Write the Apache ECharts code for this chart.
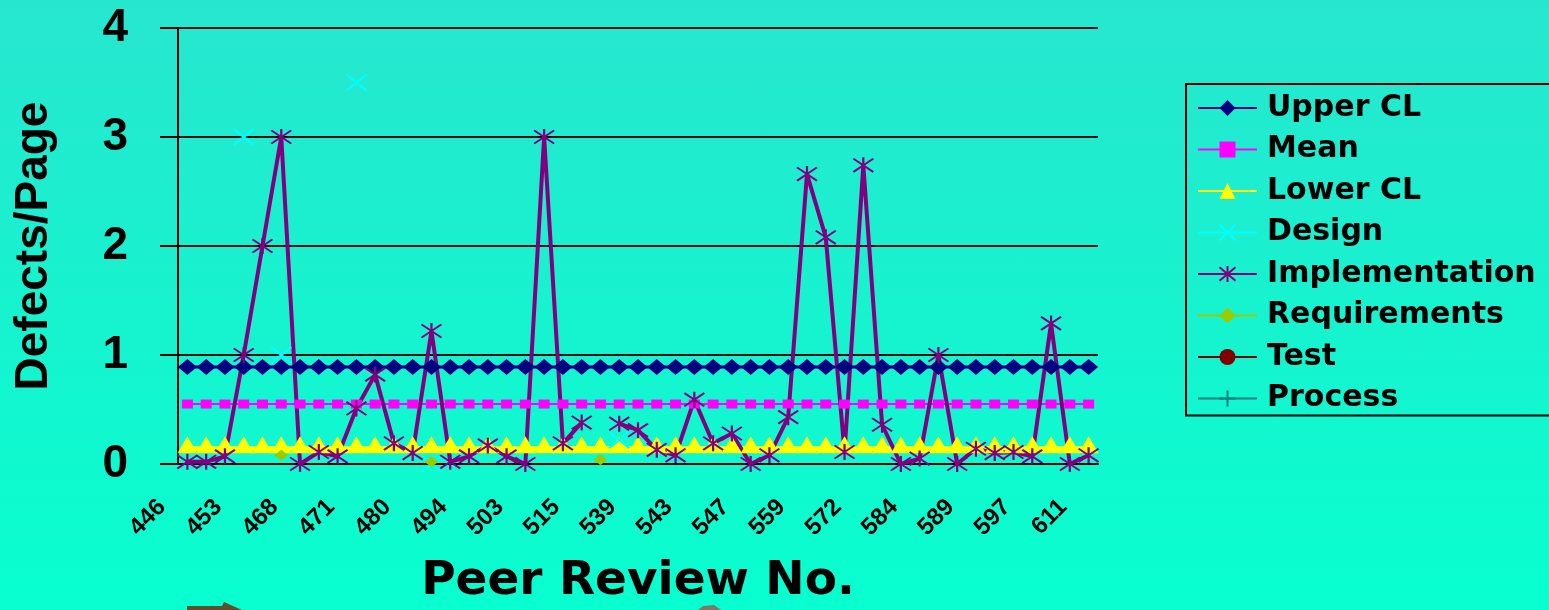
<!DOCTYPE html>
<html>
<head>
<meta charset="utf-8">
<style>
    html, body { margin: 0; padding: 0; }
    body { background: linear-gradient(to bottom, #27e6cf 0%, #14f5cf 60%, #08ffcf 100%); }
    #defects_chart { width: 1549px; height: 610px; }
</style>
</head>
<body>
<div id="defects_chart"></div>

<script src="https://cdn.jsdelivr.net/npm/echarts@6/dist/echarts.min.js"></script>
<script type="text/javascript">

    // peer review numbers (only every third one is labelled on the axis)
    var reviews = ['446','449','451','453','458','463','468','469','470','471','474','477',
        '480','485','490','494','497','500','503','507','511','515','523','531',
        '539','540','542','543','544','546','547','551','555','559','563','568',
        '572','576','580','584','586','588','589','592','595','597','602','607','611'];

    var upperCL = [0.89,0.89,0.89,0.89,0.89,0.89,0.89,0.89,0.89,0.89,0.89,0.89,0.89,0.89,0.89,0.89,0.89,
        0.89,0.89,0.89,0.89,0.89,0.89,0.89,0.89,0.89,0.89,0.89,0.89,0.89,0.89,0.89,0.89,
        0.89,0.89,0.89,0.89,0.89,0.89,0.89,0.89,0.89,0.89,0.89,0.89,0.89,0.89,0.89,0.89];
    var meanVal = [0.55,0.55,0.55,0.55,0.55,0.55,0.55,0.55,0.55,0.55,0.55,0.55,0.55,0.55,0.55,0.55,0.55,
        0.55,0.55,0.55,0.55,0.55,0.55,0.55,0.55,0.55,0.55,0.55,0.55,0.55,0.55,0.55,0.55,
        0.55,0.55,0.55,0.55,0.55,0.55,0.55,0.55,0.55,0.55,0.55,0.55,0.55,0.55,0.55,0.55];
    var lowerCL = [0.14,0.14,0.14,0.14,0.14,0.14,0.14,0.14,0.14,0.14,0.14,0.14,0.14,0.14,0.14,0.14,0.14,
        0.14,0.14,0.14,0.14,0.14,0.14,0.14,0.14,0.14,0.14,0.14,0.14,0.14,0.14,0.14,0.14,
        0.14,0.14,0.14,0.14,0.14,0.14,0.14,0.14,0.14,0.14,0.14,0.14,0.14,0.14,0.14,0.14];

    var design = [null,null,null,3.0,null,1.0,null,null,null,3.5,null,null,null,0.0,null,null,null,
        null,null,null,null,null,null,0.22,null,null,null,null,null,null,null,null,null,
        null,null,null,null,null,null,null,null,null,null,null,null,null,null,null,null];
    var implementation = [0.02,0.02,0.07,1.0,2.0,3.0,0.0,0.11,0.07,0.51,0.82,0.19,0.10,1.22,0.02,0.07,0.17,
        0.07,0.0,3.0,0.19,0.38,null,0.37,0.31,0.13,0.08,0.59,0.19,0.28,0.0,0.08,0.43,
        2.66,2.08,0.11,2.74,0.36,0.0,0.05,1.0,0.0,0.14,0.10,0.11,0.07,1.29,0.0,0.08];
    var requirements = [null,null,null,null,null,0.08,null,null,null,null,null,null,null,0.02,null,null,null,
        null,null,null,null,null,0.04,null,null,null,null,null,null,null,null,null,null,
        null,null,null,null,null,null,null,null,null,null,null,null,null,null,null,null];
    var test = [];
    var process = [];

    var yTicks = ['0','1','2','3','4'];

    var starPath = 'path://M0,0L10,10M10,0L0,10M5,-1L5,11';
    var crossPath = 'path://M0,0L10,10M10,0L0,10';
    var plusPath = 'path://M5,0L5,10M0,5L10,5';
    var arial = "'Liberation Sans', Arial, sans-serif";
    var wide = "'DejaVu Sans', sans-serif";

    function creatDefectsChart() {
        var chart = echarts.init(document.getElementById('defects_chart'));
        chart.setOption({
            animation: false,
            backgroundColor: 'transparent',
            grid: { left: 178, right: 451, top: 28, bottom: 143 },
            // bits of slide artwork peeking in at the bottom edge
            graphic: [
                { type: 'polygon', shape: { points: [[187, 610], [187, 606], [222, 606], [224, 602], [242, 610]] },
                  style: { fill: '#5e4f2e' } },
                { type: 'polygon', shape: { points: [[698, 610], [703, 606], [714, 605], [721, 610]] },
                  style: { fill: '#7a7a6a' } }
            ],
            legend: {
                orient: 'vertical',
                left: 1186,
                top: 84,
                padding: [9, 20, 2, 11],
                borderColor: '#000',
                borderWidth: 2,
                itemWidth: 59,
                itemHeight: 20,
                itemGap: 11.5,
                textStyle: {
                    fontFamily: wide,
                    fontWeight: 'bold',
                    fontSize: 30,
                    lineHeight: 30,
                    color: '#000',
                    padding: [0, 0, 0, 5]
                }
            },
            xAxis: {
                type: 'category',
                data: reviews,
                boundaryGap: true,
                name: 'Peer Review No.',
                nameLocation: 'middle',
                nameGap: 94,
                nameTextStyle: { fontFamily: wide, fontWeight: 'bold', fontSize: 47, color: '#000' },
                axisLine: { lineStyle: { color: '#000', width: 2 } },
                axisTick: { interval: 0, length: 7, lineStyle: { color: '#000', width: 2 } },
                axisLabel: {
                    interval: 2,
                    rotate: 45,
                    margin: 14,
                    padding: [0, 36, 0, 0],
                    fontFamily: arial,
                    fontWeight: 'bold',
                    fontSize: 24,
                    color: '#000'
                },
                splitLine: { show: false }
            },
            yAxis: {
                type: 'value',
                min: 0,
                max: 4,
                interval: 1,
                name: 'Defects/Page',
                nameLocation: 'middle',
                nameRotate: 90,
                nameGap: 121,
                nameTextStyle: { fontFamily: arial, fontWeight: 'bold', fontSize: 46, color: '#000' },
                axisLine: { show: true, lineStyle: { color: '#000', width: 2 } },
                axisTick: { show: true, length: 18, lineStyle: { color: '#000', width: 2 } },
                axisLabel: {
                    margin: 50,
                    fontFamily: arial,
                    fontWeight: 'bold',
                    fontSize: 46,
                    color: '#000',
                    formatter: function (v) { return yTicks[v]; }
                },
                splitLine: { lineStyle: { color: '#111', width: 2 } }
            },
            series: [
                {
                    name: 'Upper CL', type: 'line', data: upperCL, showAllSymbol: true,
                    symbol: 'diamond', symbolSize: [19, 16],
                    itemStyle: { color: '#000080' },
                    lineStyle: { color: '#000080', width: 3 }
                },
                {
                    name: 'Mean', type: 'line', data: meanVal, showAllSymbol: true,
                    symbol: 'rect', symbolSize: [11, 9],
                    itemStyle: { color: '#ff00ff' },
                    lineStyle: { color: '#ff00ff', width: 2 }
                },
                {
                    name: 'Lower CL', type: 'line', data: lowerCL, showAllSymbol: true,
                    symbol: 'triangle', symbolSize: [20, 17], symbolOffset: [0, -4],
                    itemStyle: { color: '#ffff00' },
                    lineStyle: { color: '#ffff00', width: 5 }
                },
                {
                    name: 'Design', type: 'line', data: design, showAllSymbol: true,
                    symbol: crossPath, symbolSize: [20, 16],
                    itemStyle: { color: '#00ffff', borderColor: '#00ffff', borderWidth: 2 },
                    lineStyle: { color: '#00ffff', width: 3 }
                },
                {
                    name: 'Implementation', type: 'line', data: implementation, showAllSymbol: true,
                    symbol: starPath, symbolSize: [20, 16],
                    itemStyle: { color: '#800080', borderColor: '#800080', borderWidth: 2 },
                    lineStyle: { color: '#800080', width: 4 }
                },
                {
                    name: 'Requirements', type: 'line', data: requirements, showAllSymbol: true,
                    symbol: 'diamond', symbolSize: [14, 11],
                    itemStyle: { color: '#99cc00' },
                    lineStyle: { color: '#99cc00', width: 2 }
                },
                {
                    name: 'Test', type: 'line', data: test,
                    symbol: 'circle', symbolSize: 11,
                    itemStyle: { color: '#800000' },
                    lineStyle: { color: '#800000', width: 2 }
                },
                {
                    name: 'Process', type: 'line', data: process,
                    symbol: plusPath, symbolSize: 10,
                    itemStyle: { color: '#008080', borderColor: '#008080', borderWidth: 1 },
                    lineStyle: { color: '#008080', width: 2 }
                }
            ]
        });
    }

    creatDefectsChart();

</script>
</body>
</html>
